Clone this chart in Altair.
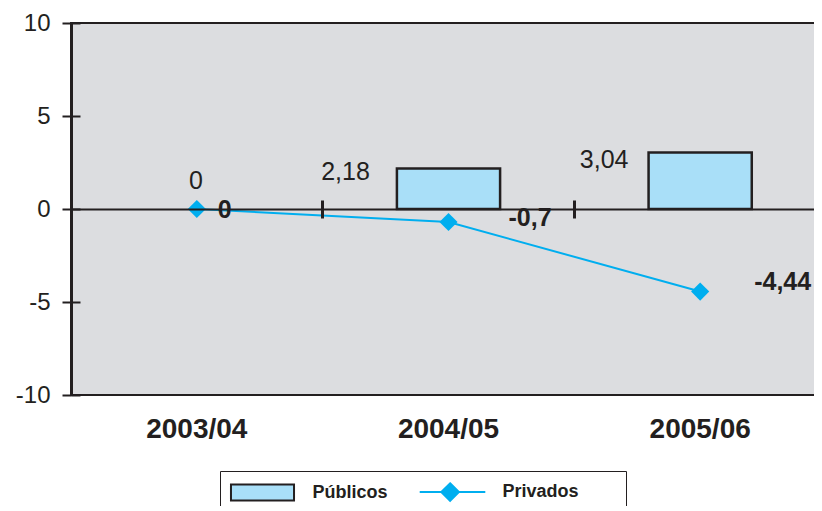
import altair as alt
import pandas as pd

categories = ["2003/04", "2004/05", "2005/06"]
publicos = [0, 2.18, 3.04]
privados = [0, -0.7, -4.44]
publicos_labels = ["0", "2,18", "3,04"]
privados_labels = ["0", "-0,7", "-4,44"]
series = ["Públicos", "Privados"]
y_ticks = [-10, -5, 0, 5, 10]

W, H = 755, 372
ZERO = H / 2
INK = "#231f20"
FONT = "Liberation Sans"
BAR_FILL = "#a9dff8"
LINE_COL = "#00aeef"

df_pub = pd.DataFrame({"cat": categories, "value": publicos, "label": publicos_labels, "serie": series[0]})
df_pri = pd.DataFrame({"cat": categories, "value": privados, "label": privados_labels, "serie": series[1]})
df_all = pd.concat([df_pub, df_pri], ignore_index=True)

def xenc(axis):
    return alt.X("cat:N", sort=categories, title=None,
                 scale=alt.Scale(paddingInner=0, paddingOuter=0), axis=axis)

def yenc(axis):
    return alt.Y("value:Q", title=None,
                 scale=alt.Scale(domain=[-10, 10], nice=False, zero=False), axis=axis)

LEG_SHAPES = ["M-3.94,-1H3.94V1H-3.94Z",
              "M-4.1,0H4.1M-0.3,-1.1L0.8,0L-0.3,1.1L-1.4,0Z"]

legend = alt.Legend(
    title=" ", titleOrient="right", titlePadding=35, titleFontSize=18,
    orient="none", legendX=149, legendY=448, direction="horizontal",
    strokeColor=INK, padding=12, columnPadding=27,
    labelFont=FONT, labelFontWeight="bold", labelFontSize=18, labelColor=INK,
    symbolSize=256, symbolOffset=21.5, labelOffset=41,
    symbolOpacity=1, symbolStrokeWidth=2,
)

fill_scale = alt.Scale(domain=series, range=[BAR_FILL, LINE_COL])
stroke_scale = alt.Scale(domain=series, range=[INK, LINE_COL])
shape_scale = alt.Scale(domain=series, range=LEG_SHAPES)

bars = alt.Chart(df_pub).mark_bar(
    width=alt.RelativeBandSize(0.41), stroke=INK, strokeWidth=2.5
).encode(
    x=xenc(alt.Axis(orient="bottom", domain=False, ticks=False, labelFont=FONT,
                    labelFontWeight="bold", labelFontSize=28, labelColor=INK,
                    labelPadding=20, labelAngle=0)),
    y=yenc(alt.Axis(orient="left", values=y_ticks, grid=False, domainColor=INK,
                    domainWidth=3, tickColor=INK, tickSize=9, tickWidth=2,
                    labelFont=FONT, labelFontSize=24, labelColor=INK, labelPadding=12,
                    labelExpr="datum.value < 0 ? '-' + abs(datum.value) : '' + datum.value")),
    fill=alt.Fill("serie:N", scale=fill_scale, legend=legend),
    strokeOpacity=alt.condition(alt.datum.value == 0, alt.value(0), alt.value(1)),
)

line = alt.Chart(df_pri).mark_line(strokeWidth=2).encode(
    x=xenc(alt.Axis(orient="top", offset=-ZERO, domain=True, domainColor=INK,
                    domainWidth=2, ticks=True, tickColor=INK, tickSize=9, tickWidth=3,
                    bandPosition=0, labels=False, zindex=1)),
    y=yenc(alt.Axis(orient="right", offset=-W, domain=False, ticks=True, tickSize=9,
                    tickWidth=2, tickColor=INK, labels=False, grid=False, values=y_ticks)),
    stroke=alt.Stroke("serie:N", scale=stroke_scale, legend=legend),
)

pts = alt.Chart(df_pri).mark_point(
    shape="diamond", filled=True, size=330, color=LINE_COL, opacity=1
).encode(
    x=xenc(alt.Axis(orient="bottom", offset=-ZERO, domain=False, ticks=True,
                    tickSize=9, tickWidth=3, tickColor=INK, bandPosition=0,
                    labels=False, zindex=1)),
    y=yenc(None),
)

ghost = alt.Chart(df_all).mark_point(opacity=0, filled=False).encode(
    x=xenc(None), y=yenc(None),
    shape=alt.Shape("serie:N", scale=shape_scale, legend=legend),
)

def label_layer(df, cat, dx, dy, align, bold):
    return alt.Chart(df).transform_filter(alt.datum.cat == cat).mark_text(
        font=FONT, fontSize=25, fontWeight="bold" if bold else "normal",
        color=INK, align=align, baseline="middle", dx=dx, dy=dy
    ).encode(x=xenc(None), y=yenc(None), text="label:N")

labels = [
    label_layer(df_pub, categories[0], -1, -28, "center", False),
    label_layer(df_pub, categories[1], -103, 4, "center", False),
    label_layer(df_pub, categories[2], -96, 8, "center", False),
    label_layer(df_pri, categories[0], 21, 1, "left", True),
    label_layer(df_pri, categories[1], 60, -4, "left", True),
    label_layer(df_pri, categories[2], 54, -10, "left", True),
]

chart = alt.layer(bars, line, pts, ghost, *labels).resolve_axis(
    x="independent", y="independent"
).properties(
    width=W, height=H,
    padding={"left": 63, "top": 15, "right": -12, "bottom": 111},
    autosize=alt.AutoSizeParams(type="none"),
    background="white",
).configure_view(fill="#dcdde0", stroke=INK, strokeWidth=2).configure_axis(grid=False)

chart.save("out.html", embed_options={"renderer": "svg", "actions": False})
